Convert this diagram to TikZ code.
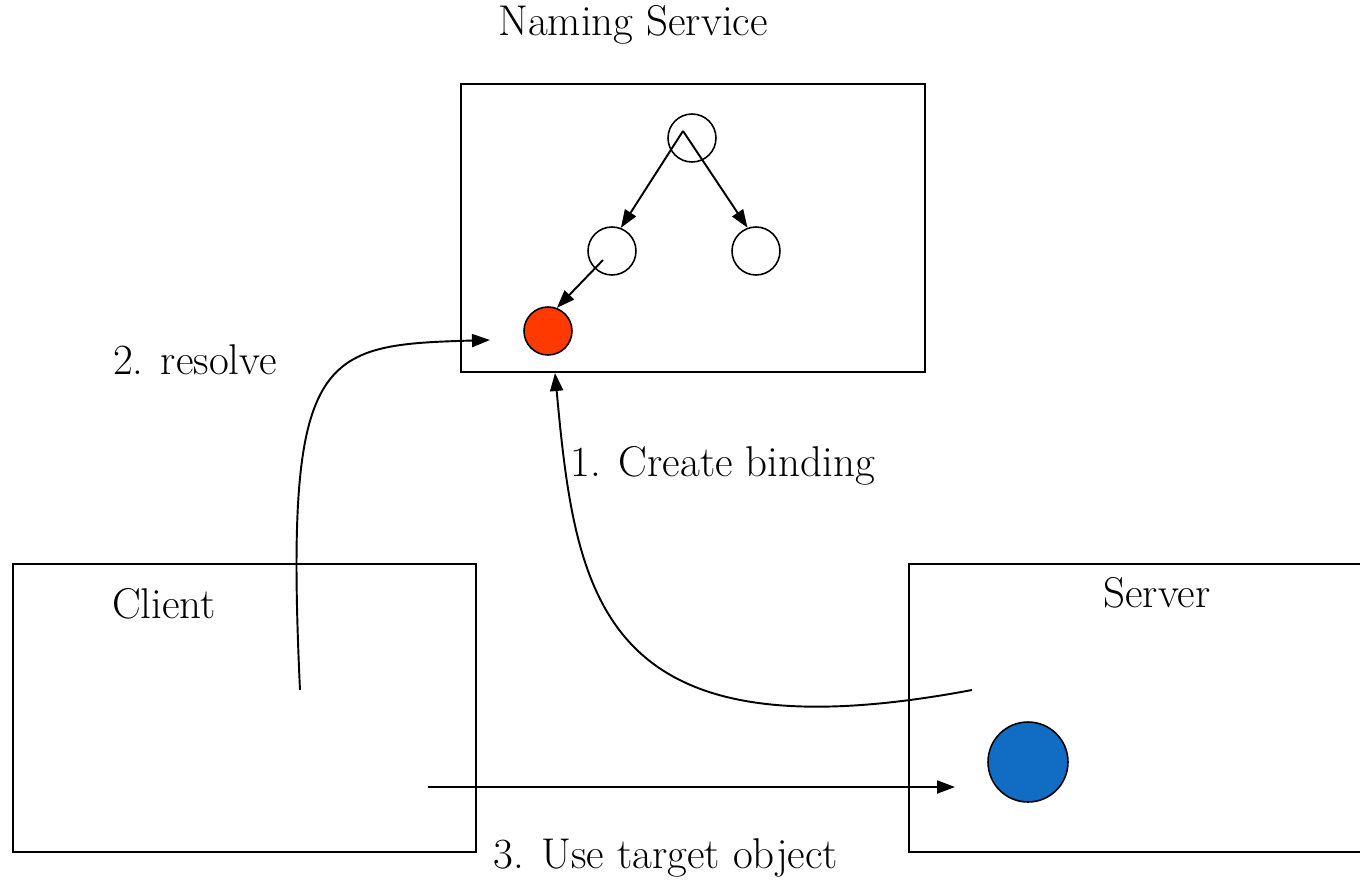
\documentclass[tikz,border=0pt]{standalone}
\usepackage{tikz}
\usetikzlibrary{arrows.meta,positioning}
\definecolor{bindred}{HTML}{FF3A00}
\definecolor{objblue}{HTML}{116DC4}
\tikzset{
  box/.style={draw, line width=1.1pt, inner sep=0pt, anchor=north west, minimum height=5.76cm},
  vtx/.style={circle, draw, line width=0.9pt, minimum size=0.96cm, inner sep=0pt},
  arr/.style={line width=1.1pt, -{Triangle[length=0.36cm,width=0.26cm]}},
  lbl/.style={font=\fontsize{24.5}{29}\selectfont, inner sep=0pt},
}

\begin{document}
\begin{tikzpicture}[x=0.02cm, y=-0.02cm]
    \useasboundingbox (0,0) rectangle (1360,883);
    \node[box, minimum width=9.28cm] (naming) at (460,83) {};
    \node[box, minimum width=9.26cm] (client) at (12,563) {};
    \node[box, minimum width=9.4cm] (server) at (908,563) {};
    \node[lbl] at (633,25) {Naming Service};
    \node[lbl] at (164,604) {Client};
    \node[lbl] at (1157,593) {Server};

    \node[vtx] (root) at (692,138) {};
    \node[vtx] (left) at (612,251) {};
    \node[vtx] (right) at (756,251) {};
    \node[vtx, fill=bindred] (target) at (548,331) {};
    \node[vtx, fill=objblue, minimum size=1.6cm] (obj) at (1028,762) {};

    \coordinate (fork) at ([shift={(-0.18cm,0.14cm)}]root.center);
    \coordinate (step) at ([shift={(-0.18cm,-0.18cm)}]left.center);
    \draw[arr] (fork) -- (left.69);
    \draw[arr] (fork) -- (right.110);
    \draw[arr] (step) -- (target.69);

    \coordinate (askfrom) at (300,690);
    \coordinate (askto) at (490,340);
    \coordinate (bindfrom) at (972,690);
    \coordinate (bindto) at (555,373);
    \coordinate (usefrom) at (428,787);
    \coordinate (useto) at (955,787);
    \draw[arr] (askfrom) .. controls (284,350) and (320,345) .. (askto);
    \draw[arr] (bindfrom) .. controls (600,760) and (576,600) .. (bindto);
    \draw[arr] (usefrom) -- (useto);

    \node[lbl] at (195,360) {2. resolve};
    \node[lbl] at (723,466) {1. Create binding};
    \node[lbl] at (666,858) {3. Use target object};
\end{tikzpicture}
\end{document}
